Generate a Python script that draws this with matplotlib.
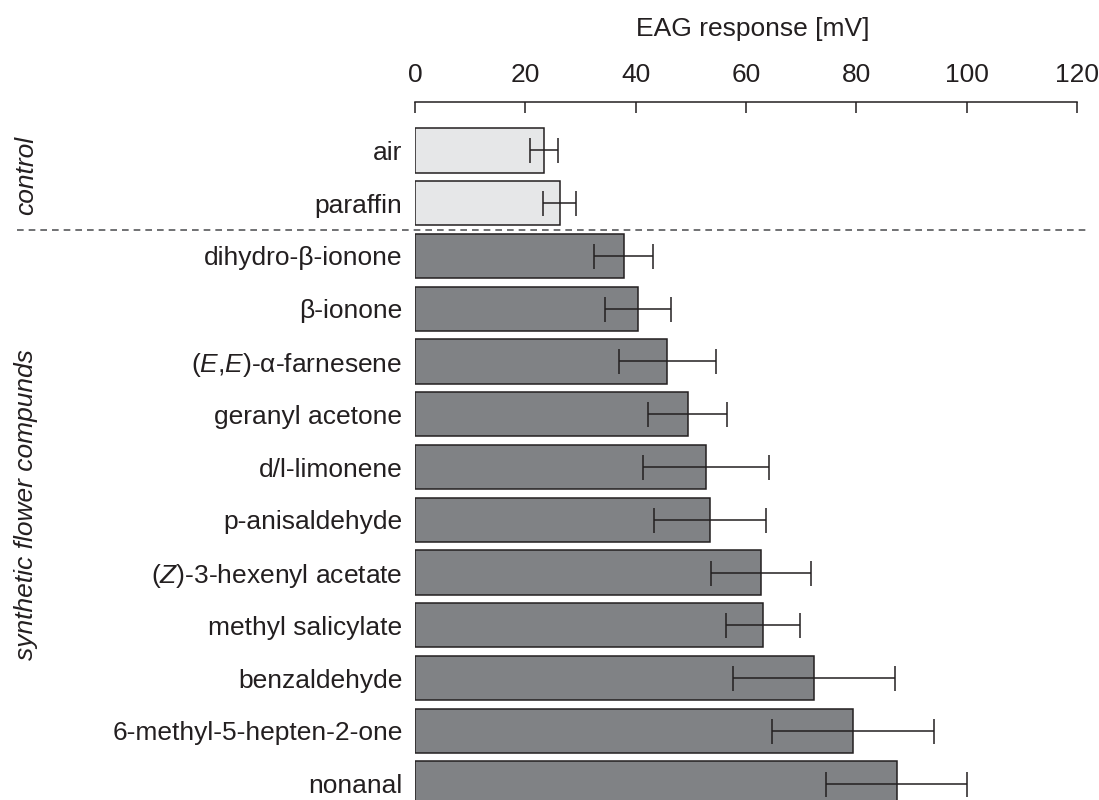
import numpy as np
import matplotlib
matplotlib.use('Agg')
import matplotlib.pyplot as plt

# данные
labels = ['air', 'paraffin', 'dihydro-β-ionone', 'β-ionone',
          r'($\mathit{E}$,$\mathit{E}$)-α-farnesene', 'geranyl acetone', 'd/l-limonene',
          'p-anisaldehyde', r'($\mathit{Z}$)-3-hexenyl acetate', 'methyl salicylate',
          'benzaldehyde', '6-methyl-5-hepten-2-one', 'nonanal']
means = [23.4, 26.2, 37.8, 40.4, 45.7, 49.4, 52.8, 53.5, 62.7, 63.1, 72.3, 79.4, 87.3]
errs = [2.5, 3.0, 5.3, 6.0, 8.8, 7.2, 11.4, 10.2, 9.0, 6.7, 14.7, 14.7, 12.8]
n_control = 2
xticks = [0, 20, 40, 60, 80, 100, 120]

plt.rcParams['font.family'] = ['Liberation Sans', 'DejaVu Sans']
plt.rcParams['mathtext.fontset'] = 'custom'
plt.rcParams['mathtext.it'] = 'Liberation Sans:italic'
plt.rcParams['mathtext.rm'] = 'Liberation Sans'
txt = '#231f20'

fig = plt.figure(figsize=(10.99, 8), dpi=100)
ax = fig.add_axes([415/1099, 0, 662/1099, 698/800])

ys = np.arange(len(labels))
colors = ['#e6e7e8'] * n_control + ['#808285'] * (len(labels) - n_control)
ax.barh(ys, means, height=0.84, color=colors, edgecolor=txt, linewidth=1.1, zorder=2)
ax.errorbar(means, ys, xerr=errs, fmt='none', ecolor=txt, elinewidth=1.1,
            capsize=9, capthick=1.1, zorder=3)

ax.set_xlim(0, 120)
ax.set_ylim(12.31, -0.917)
ax.set_yticks(ys)
ax.set_yticklabels(labels)
ax.set_xticks(xticks)
ax.xaxis.tick_top()
ax.tick_params(axis='x', direction='in', length=8, width=1.1, pad=11,
               labelsize=19, colors=txt)
ax.tick_params(axis='y', length=0, pad=9, labelsize=19, colors=txt)
for s in ['bottom', 'left', 'right']:
    ax.spines[s].set_visible(False)
ax.spines['top'].set_linewidth(1.1)
ax.spines['top'].set_color(txt)

# разделительная пунктирная линия
ax.plot([-0.601, 1.015], [n_control - 0.5] * 2, transform=ax.get_yaxis_transform(),
        color='#58595b', linewidth=1.2, linestyle=(0, (4, 3)), clip_on=False, zorder=1)

fig.text(753/1099, 1 - 29/800, 'EAG response [mV]', ha='center', va='center',
         fontsize=19, color=txt)
fig.text(26/1099, 1 - 175/800, 'control', rotation=90, style='italic',
         ha='center', va='center', fontsize=19, color=txt)
fig.text(26/1099, 1 - 505/800, 'synthetic flower compunds', rotation=90, style='italic',
         ha='center', va='center', fontsize=19, color=txt)

fig.savefig('out.png', dpi=100)
